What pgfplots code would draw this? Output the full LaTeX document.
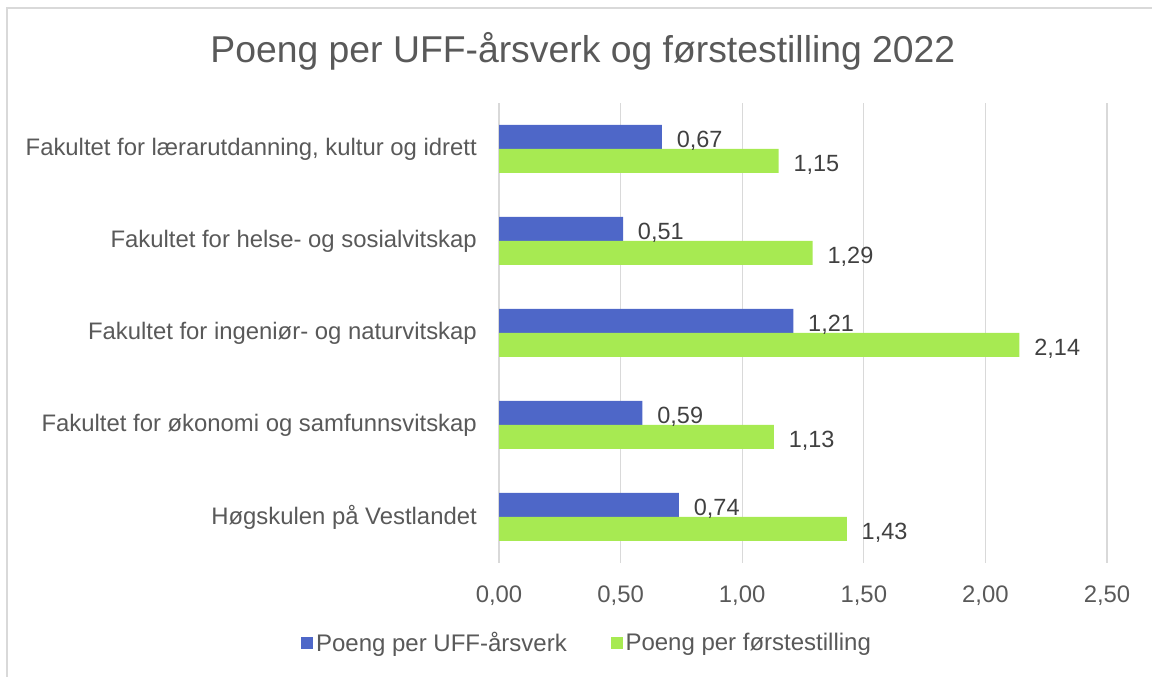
\documentclass[border=0pt]{standalone}
\usepackage{pgfplots}
\pgfplotsset{compat=1.18}
\usepackage{fontspec}
\setmainfont{Liberation Sans}
\definecolor{blueb}{HTML}{4E67C8}
\definecolor{greenb}{HTML}{A7EA52}
\definecolor{txt}{HTML}{595959}
\definecolor{dtxt}{HTML}{404040}
\definecolor{grd}{HTML}{D9D9D9}
\begin{document}
\begin{tikzpicture}
\useasboundingbox (0,0) rectangle (864pt,507.75pt);
\draw[grd, line width=1.5pt] (5.25pt,0) -- (5.25pt,501.75pt) -- (864pt,501.75pt);
\begin{axis}[
  at={(374.25pt,85.5pt)}, anchor=south west,
  scale only axis, width=456pt, height=345pt,
  xbar, bar width=18pt,
  xmin=0, xmax=2.5, ymin=-0.5, ymax=4.5,
  xtick={0,0.5,1,1.5,2,2.5}, ytick={0,1,2,3,4},
  yticklabels={Høgskulen på Vestlandet, Fakultet for økonomi og samfunnsvitskap, Fakultet for ingeniør- og naturvitskap, Fakultet for helse- og sosialvitskap, {Fakultet for lærarutdanning, kultur og idrett}},
  axis line style={draw=none}, major tick length=0pt,
  xmajorgrids, grid style={grd, line width=1pt},
  tick label style={font=\fontsize{17.9}{21}\selectfont, text=txt},
  yticklabel style={inner sep=0pt, anchor=east, xshift=-16.5pt},
  xticklabel style={inner sep=0pt, anchor=north, yshift=-17pt},
  title={Poeng per UFF-årsverk og førstestilling 2022},
  title style={at={(0.138,1.095)}, anchor=center, font=\fontsize{28}{32}\selectfont, text=txt},
  nodes near coords,
  nodes near coords style={font=\fontsize{17.6}{21}\selectfont, text=dtxt, anchor=west, inner sep=0pt, xshift=11pt, yshift=-3pt},
  /pgf/number format/use comma,
  /pgf/number format/fixed,
  /pgf/number format/fixed zerofill,
  /pgf/number format/precision=2,
  /pgf/number format/assume math mode=true,
  legend columns=2,
  legend image code/.code={\fill[#1] (0pt,-4.5pt) rectangle (9pt,4.5pt);},
  legend style={draw=none, at={(0.1456,-0.174)}, anchor=center, font=\fontsize{18}{21}\selectfont, text=txt,
    /tikz/every even column/.append style={column sep=31pt}},
]
\addplot[fill=blueb, draw=none, bar shift=9pt] coordinates {(0.67,4) (0.51,3) (1.21,2) (0.59,1) (0.74,0)};
\addplot[fill=greenb, draw=none, bar shift=-9pt] coordinates {(1.15,4) (1.29,3) (2.14,2) (1.13,1) (1.43,0)};
\legend{Poeng per UFF-årsverk, Poeng per førstestilling}
\end{axis}
\end{tikzpicture}
\end{document}
